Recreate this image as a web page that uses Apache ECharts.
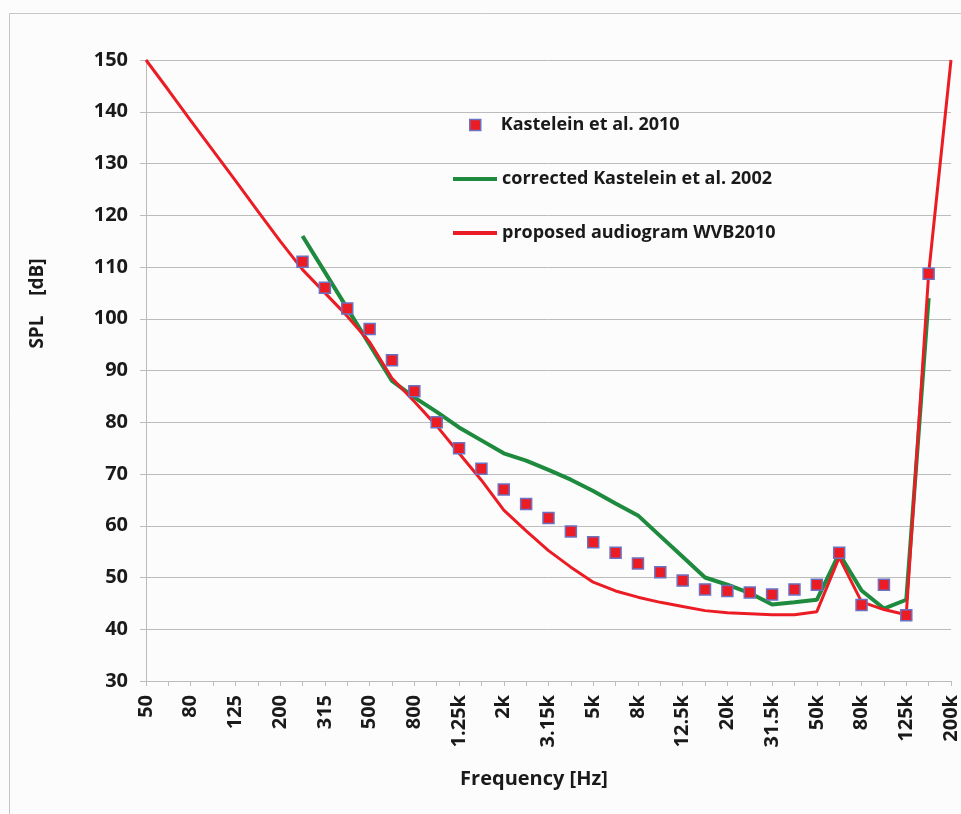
<!DOCTYPE html>
<html>
<head>
<meta charset="utf-8">
<script src="https://cdn.jsdelivr.net/npm/echarts@6/dist/echarts.min.js"></script>
<style>
  html, body { margin: 0; padding: 0; background: #fcfcfc; }
  #main { width: 961px; height: 814px; }
</style>
</head>
<body>
<div id="main"></div>
<script>
// third-octave band centre frequencies
var freqs = ['50','63','80','100','125','160','200','250','315','400','500','630','800','1k',
  '1.25k','1.6k','2k','2.5k','3.15k','4k','5k','6.3k','8k','10k','12.5k','16k','20k','25k',
  '31.5k','40k','50k','63k','80k','100k','125k','160k','200k'];

// Kastelein et al. 2010 (squares)
var kastelein2010 = [null, null, null, null, null, null, null,
  111, 106, 102, 98, 92, 86, 80, 75, 71, 67, 64.2, 61.5, 58.9, 56.8, 54.8, 52.7, 51,
  49.4, 47.7, 47.4, 47.1, 46.7, 47.7, 48.6, 54.8, 44.7, 48.6, 42.7, 108.7, null];

// corrected Kastelein et al. 2002
var kastelein2002 = [null, null, null, null, null, null, null,
  116, 109, 102, 95, 88, 84.8, 82, 79, 76.5, 74, 72.6, 70.8, 68.9, 66.7, 64.3, 62, 58,
  54, 50, 48.6, 47, 44.8, 45.2, 45.7, 54.6, 47.5, 44, 45.7, 104, null];

// proposed audiogram WVB2010
var wvb2010 = [150, 144.2, 138.3, 132.5, 126.7, 120.8, 115,
  109.5, 105, 100.5, 95.5, 88.5, 84, 79.3, 74, 68.8, 63, 59, 55.2, 52, 49.1, 47.4, 46.2, 45.2,
  44.4, 43.6, 43.2, 43, 42.8, 42.8, 43.4, 53.9, 45.3, 43.8, 42.8, 108.7, 150];

var font = 'Open Sans';
var red = '#ec1c24';
var green = '#1d8a3e';
var grey = '#bcbcbc';
var ink = '#1a1a1a';

var option = {
  animation: false,
  backgroundColor: '#fcfcfc',
  textStyle: { fontFamily: font },
  graphic: [{
    type: 'rect',
    shape: { x: 9.5, y: 13.5, width: 1000, height: 1000 },
    style: { fill: 'none', stroke: '#c6c6c6', lineWidth: 1 },
    silent: true
  }],
  grid: { left: 146, right: 6, top: 60, bottom: 133 },
  legend: [{
    data: [{
      name: 'Kastelein et al. 2010',
      icon: 'rect',
      itemStyle: { color: red, borderColor: '#6b72c4', borderWidth: 1.5 }
    }],
    left: 469, top: 116, padding: 0,
    itemWidth: 11, itemHeight: 11,
    textStyle: { fontFamily: font, fontWeight: 'bold', fontSize: 18, color: ink, lineHeight: 16, padding: [0, 0, 0, 15] }
  }, {
    data: [
      { name: 'corrected Kastelein et al. 2002', icon: 'rect', itemStyle: { color: green } },
      { name: 'proposed audiogram WVB2010', icon: 'rect', itemStyle: { color: red } }
    ],
    orient: 'vertical',
    left: 453, top: 170, padding: 0,
    itemWidth: 44, itemHeight: 4, itemGap: 36,
    textStyle: { fontFamily: font, fontWeight: 'bold', fontSize: 18, color: ink, lineHeight: 16 }
  }],
  xAxis: {
    type: 'category',
    data: freqs,
    boundaryGap: false,
    name: 'Frequency [Hz]',
    nameLocation: 'middle',
    nameGap: 88,
    nameTextStyle: { fontFamily: font, fontWeight: 'bold', fontSize: 20, color: ink, padding: [0, 29, 0, 0] },
    axisLine: { lineStyle: { color: grey } },
    axisTick: { interval: 0, length: 5, lineStyle: { color: grey } },
    axisLabel: {
      interval: 1, rotate: 90, margin: 14,
      fontFamily: font, fontWeight: 'bold', fontSize: 20, color: ink
    },
    splitLine: { show: false }
  },
  yAxis: {
    type: 'value',
    min: 30, max: 150, interval: 10,
    name: 'SPL    [dB]',
    nameLocation: 'middle',
    nameGap: 99,
    nameRotate: 90,
    nameTextStyle: { fontFamily: font, fontWeight: 'bold', fontSize: 19, color: ink, padding: [0, 0, 0, 134] },
    axisLine: { show: true, lineStyle: { color: grey } },
    axisTick: { show: true, length: 6, lineStyle: { color: grey } },
    axisLabel: { margin: 18, fontFamily: font, fontWeight: 'bold', fontSize: 20, color: ink },
    splitLine: { lineStyle: { color: grey } }
  },
  series: [{
    name: 'corrected Kastelein et al. 2002',
    type: 'line',
    data: kastelein2002,
    symbol: 'none',
    lineStyle: { color: green, width: 4 },
    itemStyle: { color: green }
  }, {
    name: 'proposed audiogram WVB2010',
    type: 'line',
    data: wvb2010,
    symbol: 'none',
    lineStyle: { color: red, width: 3 },
    itemStyle: { color: red }
  }, {
    name: 'Kastelein et al. 2010',
    type: 'scatter',
    data: kastelein2010,
    symbol: 'rect',
    symbolSize: 11,
    itemStyle: { color: red, borderColor: '#6b72c4', borderWidth: 1.5, opacity: 1 },
    z: 5
  }]
};

var myChart = echarts.init(document.getElementById('main'));
myChart.setOption(option);
</script>
</body>
</html>
